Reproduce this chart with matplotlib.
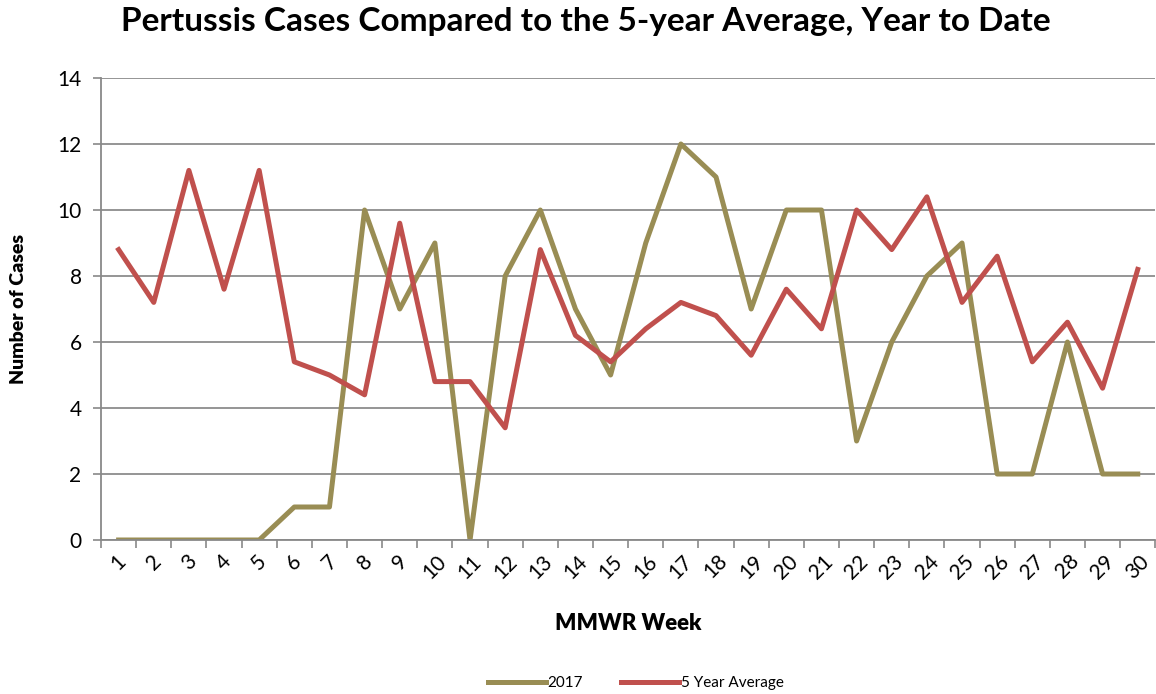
import matplotlib.pyplot as plt
import numpy as np

weeks = list(range(1, 31))
cases_2017 = [0, 0, 0, 0, 0, 1, 1, 10, 7, 9, 0, 8, 10, 7, 5,
              9, 12, 11, 7, 10, 10, 3, 6, 8, 9, 2, 2, 6, 2, 2]
avg_5yr = [8.8, 7.2, 11.2, 7.6, 11.2, 5.4, 5.0, 4.4, 9.6, 4.8, 4.8, 3.4, 8.8, 6.2, 5.4,
           6.4, 7.2, 6.8, 5.6, 7.6, 6.4, 10.0, 8.8, 10.4, 7.2, 8.6, 5.4, 6.6, 4.6, 8.2]

plt.rcParams["font.family"] = ["Lato", "DejaVu Sans"]

fig = plt.figure(figsize=(11.56, 6.94), dpi=100)
ax = fig.add_axes([0.0874, 0.2219, 0.912, 0.6657])

ax.plot(weeks, cases_2017, color="#998D54", lw=3.6, label="2017", solid_joinstyle="round")
ax.plot(weeks, avg_5yr, color="#C0504D", lw=3.6, label="5 Year Average", solid_joinstyle="round")

ax.set_xlim(0.5, 30.5)
ax.set_ylim(0, 14)
ax.set_yticks(np.arange(0, 15, 2))
ax.set_xticks(weeks)
ax.set_xticklabels([str(w) for w in weeks], rotation=45, ha="center", fontsize=15)
ax.set_xticks(np.arange(0.5, 31, 1), minor=True)
ax.tick_params(axis="x", which="major", length=0, pad=8)
ax.tick_params(axis="x", which="minor", length=6, color="#898989", width=1.2)
ax.tick_params(axis="y", length=6, color="#898989", width=1.2, labelsize=15, pad=8)

ax.grid(axis="y", color="#8c8c8c", lw=1.3)
ax.set_axisbelow(True)
for s in ["top", "right"]:
    ax.spines[s].set_visible(False)
for s in ["left", "bottom"]:
    ax.spines[s].set_color("#898989")
    ax.spines[s].set_linewidth(1.3)

ax.set_ylabel("Number of Cases", fontsize=14, fontweight="heavy", labelpad=22)
ax.set_xlabel("MMWR Week", fontsize=16, fontweight="heavy", labelpad=22)
fig.suptitle("Pertussis Cases Compared to the 5-year Average, Year to Date",
             fontsize=24, fontweight="bold", x=0.507, y=0.99)

fig.legend(loc="center", bbox_to_anchor=(0.55, 0.016), ncol=2,
           frameon=False, fontsize=11, handlelength=3.8, handletextpad=0.1,
           columnspacing=2.5)

fig.savefig("out.png", dpi=100)
